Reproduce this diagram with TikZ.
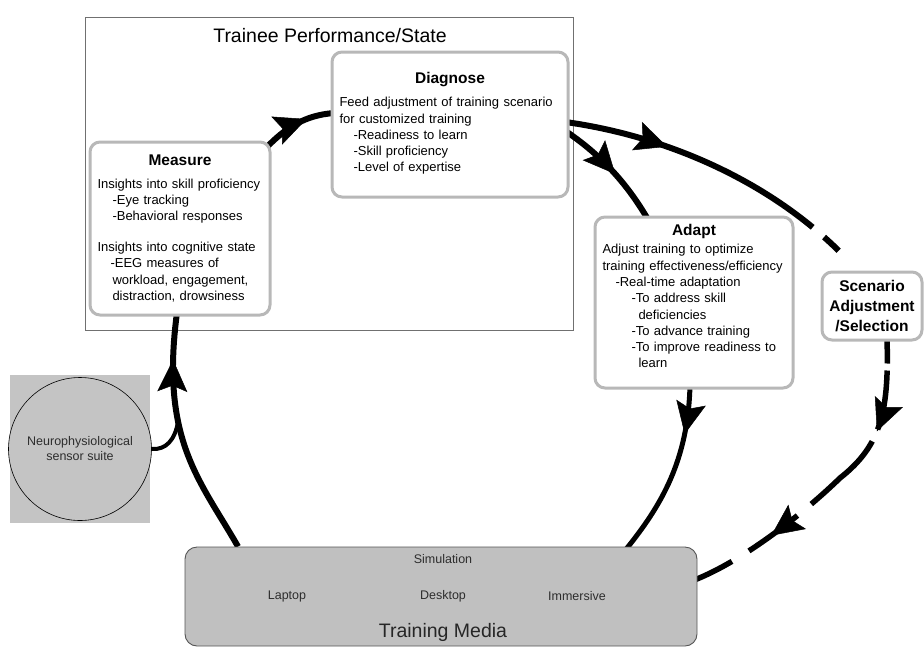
\documentclass[tikz,border=0pt]{standalone}
\usepackage{fontspec}
\setmainfont{Liberation Sans}
\usetikzlibrary{arrows.meta, positioning, calc, backgrounds, decorations.markings}
\definecolor{framegray}{RGB}{112,112,112}
\definecolor{stagegray}{RGB}{184,184,184}
\definecolor{mediagray}{RGB}{192,192,192}
\definecolor{mediaedge}{RGB}{85,85,85}
\definecolor{sensorgray}{RGB}{196,196,196}
\definecolor{labelgray}{RGB}{45,45,45}

\newcommand{\stagetitle}[1]{\makebox[\hsize]{\fontsize{15.5}{19}\selectfont\bfseries #1}}

\begin{document}
\begin{tikzpicture}[
    x=1pt, y=-1pt,
    stagebox/.style={draw=stagegray, line width=3pt, fill=white, rounded corners=10pt, font=\fontsize{13}{16.3}\selectfont, align=left, text width=#1, inner xsep=7.5pt},
    choicebox/.style={draw=stagegray, line width=3pt, fill=white, rounded corners=10pt, minimum width=100pt, minimum height=68pt, align=center, font=\fontsize{15.5}{20}\selectfont\bfseries},
    mediabox/.style={draw=mediaedge, fill=mediagray, line width=0.9pt, rounded corners=12pt},
    medialabel/.style={font=\fontsize{12.5}{15}\selectfont, text=labelgray},
    flowline/.style={line width=6pt},
    midtip/.style={postaction={decorate, decoration={markings, mark=at position #1 with {\arrow{Stealth[length=32pt, width=30pt, inset=6pt, line width=0.5pt]}}}}}
]
    \useasboundingbox (0,0) rectangle (924,649);

    % Trainee state and the stages
    \node[font=\fontsize{19.5}{23}\selectfont] (statetitle) at (330,36) {Trainee Performance/State};

    \node[stagebox=165pt, minimum height=173pt] (measure) at (180,228.5) {\stagetitle{Measure}\\[6.5pt]
        Insights into skill proficiency\\
        \hspace*{15pt}-Eye tracking\\
        \hspace*{15pt}-Behavioral responses\\[14.5pt]
        Insights into cognitive state\\
        \hspace*{13pt}-EEG measures of\\
        \hspace*{15pt}workload, engagement,\\
        \hspace*{15pt}distraction, drowsiness};
    \node[stagebox=221pt, minimum height=145pt] (diagnose) at (450,124.5) {\stagetitle{Diagnose}\\[6.5pt]
        Feed adjustment of training scenario\\
        for customized training\\
        \hspace*{14pt}-Readiness to learn\\
        \hspace*{14pt}-Skill proficiency\\
        \hspace*{14pt}-Level of expertise\\[-12pt]\mbox{}};
    \node[stagebox=183pt, minimum height=171pt] (adapt) at (694,302.5) {\stagetitle{Adapt}\\[2.5pt]
        Adjust training to optimize\\
        training effectiveness/efficiency\\
        \hspace*{13pt}-Real-time adaptation\\
        \hspace*{29pt}-To address skill\\
        \hspace*{36pt}deficiencies\\
        \hspace*{29pt}-To advance training\\
        \hspace*{29pt}-To improve readiness to\\
        \hspace*{36pt}learn\\[-3pt]\mbox{}};
    \node[choicebox] (scenario) at (872,306) {Scenario\\Adjustment\\/Selection};

    % Training media
    \node[mediabox, minimum width=512pt, minimum height=99pt] (media) at (441,596.5) {};
    \node[medialabel] (simulation) at (443,559) {Simulation};
    \node[medialabel] (laptop) at (287,596) {Laptop};
    \node[medialabel] (desktop) at (443,596) {Desktop};
    \node[medialabel] (immersive) at (577,596) {Immersive};
    \node[font=\fontsize{19.5}{23}\selectfont, text=black!85] (mediatitle) at (443,632) {Training Media};

    % Sensor suite
    \node[fill=sensorgray, minimum width=140pt, minimum height=148pt] (sensorpad) at (80,449) {};
    \node[circle, draw, line width=0.6pt, fill=sensorgray, minimum size=143pt, align=center, font=\fontsize{12.5}{15}\selectfont, text=labelgray] (sensor) at (80,449) {Neurophysiological\\sensor suite};

    \begin{scope}[on background layer]
        \node[draw=framegray, line width=0.8pt, minimum width=488pt, minimum height=313pt] (state) at (329,173.5) {};

        % adaptive training loop
        \draw[flowline, midtip=0.81] ([xshift=-203pt]media.north) .. controls (200,480) and (160,440) .. ([xshift=-3pt,yshift=4pt]measure.south) coordinate[pos=0.64] (merge);
        \draw[line width=4pt] (sensor.east) .. controls (166,450) and (175,440) .. (merge);
        \draw[flowline, midtip=0.64] ([xshift=-6pt,yshift=-8pt]measure.north east) .. controls (285,128) and (305,115) .. ([xshift=4pt,yshift=11.5pt]diagnose.west);
        \draw[flowline, midtip=0.54] ([xshift=-4pt,yshift=-6.5pt]diagnose.east) .. controls (598,153) and (625,180) .. ([xshift=-46pt,yshift=-4pt]adapt.north);
        \draw[flowline, midtip=0.31, dash pattern=on 272pt off 15pt on 20pt off 80pt] ([xshift=-4pt,yshift=2.5pt]diagnose.east) .. controls (680,138) and (790,192) .. ([xshift=-12pt,yshift=-3pt]scenario.north);
        \draw[line width=5pt, midtip=0.27] ([xshift=-4pt,yshift=4pt]adapt.south) .. controls (688,460) and (662,505) .. ([xshift=184pt,yshift=-4pt]media.north);
        \draw[line width=5.5pt, midtip=95pt, midtip=245pt, dash pattern=on 26pt off 7pt on 60pt off 13pt on 88pt off 18pt on 60pt off 20pt on 60pt] ([xshift=15pt,yshift=4pt]scenario.south) .. controls (889,410) and (882,445) .. (840,478) .. controls (805,512) and (745,560) .. ([xshift=-3pt,yshift=16.5pt]media.east);
    \end{scope}
\end{tikzpicture}
\end{document}
